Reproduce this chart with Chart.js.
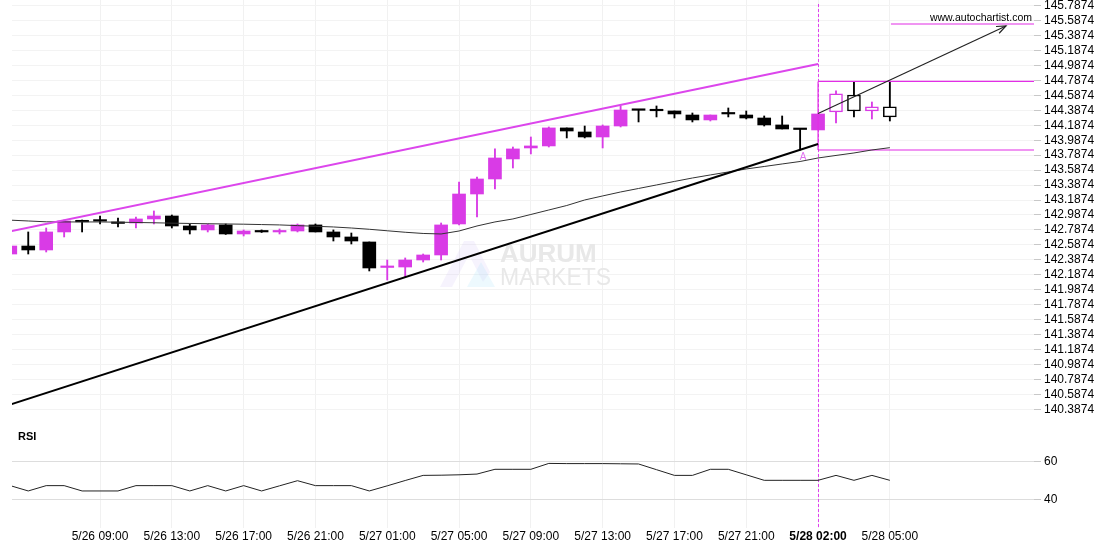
<!DOCTYPE html>
<html>
<head>
<meta charset="utf-8">
<script src="https://cdn.jsdelivr.net/npm/chart.js@4.4.0/dist/chart.umd.min.js"></script>
<style>
  html, body { margin: 0; padding: 0; background: #fff; }
</style>
</head>
<body>
<canvas id="chart" width="1110" height="550"></canvas>
<script>
// hourly candles, index 0 = first candle on the left
const candle_open = [142.465, 142.572, 142.519, 142.760, 142.910, 142.907, 142.894, 142.880, 142.934, 142.974,
    142.840, 142.787, 142.854, 142.733, 142.773, 142.760, 142.773, 142.854, 142.760, 142.693,
    142.626, 142.285, 142.291, 142.385, 142.452, 142.867, 143.268, 143.469, 143.737, 143.884,
    143.911, 144.152, 144.098, 144.031, 144.178, 144.392, 144.386, 144.379, 144.325, 144.259,
    144.346, 144.325, 144.285, 144.192, 144.138, 144.125, 144.366, 144.593, 144.379, 144.433];
const candle_high = [142.586, 142.760, 142.813, 142.920, 142.920, 142.974, 142.947, 142.960, 143.041, 142.987,
    142.867, 142.867, 142.867, 142.787, 142.787, 142.800, 142.867, 142.867, 142.787, 142.746,
    142.626, 142.385, 142.412, 142.465, 142.880, 143.429, 143.496, 143.871, 143.897, 144.031,
    144.165, 144.152, 144.178, 144.192, 144.446, 144.392, 144.446, 144.379, 144.352, 144.325,
    144.419, 144.379, 144.312, 144.312, 144.138, 144.339, 144.647, 144.767, 144.499, 144.767];
const candle_low = [142.452, 142.465, 142.492, 142.693, 142.760, 142.867, 142.827, 142.813, 142.867, 142.813,
    142.733, 142.760, 142.727, 142.706, 142.753, 142.733, 142.760, 142.760, 142.639, 142.599,
    142.238, 142.117, 142.158, 142.358, 142.385, 142.854, 142.960, 143.335, 143.616, 143.804,
    143.897, 144.018, 144.018, 143.884, 144.165, 144.232, 144.299, 144.285, 144.232, 144.245,
    144.299, 144.272, 144.178, 144.138, 143.857, 144.125, 144.218, 144.299, 144.272, 144.245];
const candle_close = [142.572, 142.519, 142.760, 142.907, 142.896, 142.905, 142.874, 142.934, 142.974, 142.840,
    142.787, 142.854, 142.733, 142.773, 142.760, 142.773, 142.854, 142.760, 142.693, 142.639,
    142.278, 142.291, 142.385, 142.452, 142.854, 143.268, 143.469, 143.750, 143.871, 143.911,
    144.152, 144.111, 144.031, 144.178, 144.392, 144.388, 144.382, 144.339, 144.259, 144.325,
    144.339, 144.285, 144.192, 144.138, 144.131, 144.339, 144.607, 144.379, 144.433, 144.299];

const ma_values = [142.918, 142.907, 142.896, 142.894, 142.894, 142.894, 142.891, 142.887, 142.883, 142.878,
    142.874, 142.870, 142.867, 142.864, 142.859, 142.854, 142.845, 142.836, 142.827, 142.813,
    142.796, 142.776, 142.756, 142.740, 142.733, 142.773, 142.840, 142.894, 142.934, 142.994,
    143.054, 143.114, 143.188, 143.242, 143.295, 143.342, 143.389, 143.436, 143.482, 143.523,
    143.563, 143.603, 143.636, 143.670, 143.703, 143.750, 143.784, 143.817, 143.857, 143.888];

const rsi_values = [47.2, 44.4, 47.2, 47.2, 44.4, 44.4, 44.4, 47.2, 47.2, 47.2,
    44.4, 47.2, 44.4, 47.2, 44.4, 47.1, 49.8, 47.2, 47.2, 47.2,
    44.4, 47.1, 49.9, 52.6, 52.7, 52.9, 53.3, 55.8, 55.8, 55.8,
    58.9, 58.8, 58.8, 58.8, 58.7, 58.6, 55.6, 52.6, 52.6, 55.8,
    55.8, 52.9, 50.0, 50.0, 50.0, 50.0, 52.6, 50.0, 52.6, 50.0];

const tick_index = [5, 9, 13, 17, 21, 25, 29, 33, 37, 41, 45, 49];
const tick_text = ['5/26 09:00', '5/26 13:00', '5/26 17:00', '5/26 21:00', '5/27 01:00', '5/27 05:00',
    '5/27 09:00', '5/27 13:00', '5/27 17:00', '5/27 21:00', '5/28 02:00', '5/28 05:00'];
const price_ticks = [140.3874, 140.5874, 140.7874, 140.9874, 141.1874, 141.3874, 141.5874, 141.7874,
    141.9874, 142.1874, 142.3874, 142.5874, 142.7874, 142.9874, 143.1874, 143.3874, 143.5874,
    143.7874, 143.9874, 144.1874, 144.3874, 144.5874, 144.7874, 144.9874, 145.1874, 145.3874,
    145.5874, 145.7874];
const rsi_ticks = [40, 60];

// pattern found by the scanner
const signal_index = 45;
const hollow_from = 46;
const resistance = [[0, 142.768], [45, 145.008]];
const support = [[0, 140.451], [45, 143.937]];
const arrow_line = [[45, 144.346], [55.47, 145.517]];
const box_top = 144.774;
const box_bottom = 143.857;
const target_level = 145.543;
const target_from = 49.06;

const x_min = 0.095;
const x_max = 57.03;

const PINK = '#d93be6';
const LEVEL_PINK = '#e22de6';
const FONT = 'Liberation Sans, Arial, sans-serif';


function pairs(list) {
    return list.map(function (p) { return {x: p[0], y: p[1]}; });
}

function buildDatasets() {
    let wicks = [], bodies = [], colors = [], fills = [], borders = [];
    for (let i = 0; i < candle_open.length; i++) {
        let up = candle_close[i] > candle_open[i];
        let color = up ? PINK : '#000000';
        wicks.push({x: i, y: [candle_low[i], candle_high[i]]});
        bodies.push({x: i, y: [candle_open[i], candle_close[i]]});
        colors.push(color);
        fills.push(i >= hollow_from ? '#ffffff' : color);
        borders.push(i >= hollow_from ? 1.5 : 0);
    }

    let line = function (data, color, width, axis) {
        return {
            type: 'line', data: data, borderColor: color, borderWidth: width,
            pointRadius: 0, tension: 0, fill: false, yAxisID: axis || 'y', order: 1
        };
    };

    return [
        line(pairs(resistance), '#dc46ec', 2),
        line(pairs(support), '#000000', 2),
        line(ma_values.map(function (v, i) { return {x: i, y: v}; }), '#333333', 1),
        line(pairs(arrow_line), '#222222', 1.2),
        line([{x: signal_index, y: box_top}, {x: x_max, y: box_top}], LEVEL_PINK, 1.2),
        line([{x: signal_index, y: box_bottom}, {x: x_max, y: box_bottom}], LEVEL_PINK, 1.2),
        line([{x: signal_index, y: box_bottom}, {x: signal_index, y: box_top}], LEVEL_PINK, 1.2),
        line([{x: target_from, y: target_level}, {x: x_max, y: target_level}], LEVEL_PINK, 1.2),
        line(rsi_values.map(function (v, i) { return {x: i, y: v}; }), '#222222', 1, 'rsi'),
        {
            type: 'bar', data: bodies, backgroundColor: fills, borderColor: colors,
            borderWidth: borders, borderSkipped: false, barThickness: 13, minBarLength: 1.5,
            grouped: false, order: 2
        },
        {
            type: 'bar', data: wicks, backgroundColor: colors, barThickness: 1.2,
            grouped: false, order: 3
        }
    ];
}


// watermark, signal line, arrow head and small texts
const overlay = {
    id: 'overlay',
    beforeDatasetsDraw: function (chart) {
        let ctx = chart.ctx, area = chart.chartArea;
        let left = area.left;

        ctx.save();
        ctx.fillStyle = 'rgba(200, 178, 240, 0.16)';
        ctx.beginPath();
        ctx.moveTo(left + 428, 287); ctx.lineTo(left + 452, 241); ctx.lineTo(left + 462, 241);
        ctx.lineTo(left + 478, 272); ctx.lineTo(left + 471, 282); ctx.lineTo(left + 457, 255);
        ctx.lineTo(left + 440, 287); ctx.closePath(); ctx.fill();
        ctx.fillStyle = 'rgba(175, 228, 250, 0.22)';
        ctx.beginPath();
        ctx.moveTo(left + 455, 287); ctx.lineTo(left + 469, 262); ctx.lineTo(left + 483, 287);
        ctx.closePath(); ctx.fill();

        ctx.fillStyle = '#e8e8e8';
        ctx.textBaseline = 'alphabetic';
        ctx.font = 'bold 26px ' + FONT;
        ctx.fillText('AURUM', left + 488, 262);
        ctx.font = '300 23px ' + FONT;
        ctx.fillText('MARKETS', left + 488, 285);
        ctx.restore();

        let sx = Math.round(chart.scales.x.getPixelForValue(signal_index)) + 0.5;
        ctx.save();
        ctx.strokeStyle = '#e040f0';
        ctx.lineWidth = 1;
        ctx.setLineDash([3, 2]);
        ctx.beginPath();
        ctx.moveTo(sx, area.top + 4);
        ctx.lineTo(sx, area.bottom);
        ctx.stroke();
        ctx.restore();
    },
    afterDatasetsDraw: function (chart) {
        let ctx = chart.ctx, area = chart.chartArea;
        let xs = chart.scales.x, ys = chart.scales.y, rs = chart.scales.rsi;

        let x1 = xs.getPixelForValue(arrow_line[0][0]), y1 = ys.getPixelForValue(arrow_line[0][1]);
        let x2 = xs.getPixelForValue(arrow_line[1][0]), y2 = ys.getPixelForValue(arrow_line[1][1]);
        let angle = Math.atan2(y2 - y1, x2 - x1);
        ctx.save();
        ctx.strokeStyle = '#222222';
        ctx.lineWidth = 1.2;
        ctx.beginPath();
        ctx.moveTo(x2 - 10 * Math.cos(angle - 0.38), y2 - 10 * Math.sin(angle - 0.38));
        ctx.lineTo(x2, y2);
        ctx.lineTo(x2 - 10 * Math.cos(angle + 0.38), y2 - 10 * Math.sin(angle + 0.38));
        ctx.stroke();

        ctx.fillStyle = '#000000';
        ctx.font = '10.5px ' + FONT;
        ctx.textAlign = 'right';
        ctx.textBaseline = 'bottom';
        ctx.fillText('www.autochartist.com', area.right - 2, ys.getPixelForValue(target_level) - 1);

        ctx.fillStyle = '#e070f0';
        ctx.font = '10px ' + FONT;
        ctx.textAlign = 'center';
        ctx.textBaseline = 'middle';
        ctx.fillText('A', xs.getPixelForValue(signal_index - 1) + 3, ys.getPixelForValue(candle_low[signal_index - 1]) + 7);

        ctx.fillStyle = '#000000';
        ctx.font = 'bold 11px ' + FONT;
        ctx.textAlign = 'left';
        ctx.fillText('RSI', area.left + 6, rs.top + 15);
        ctx.restore();
    }
};


function fixWidth(scale) {
    scale.width = 76;
    scale.paddingTop = 0;
    scale.paddingBottom = 0;
}

window.addEventListener('load', function () {
    let ctx = document.getElementById('chart').getContext('2d');
    let chart = new Chart(ctx, {
        type: 'bar',
        data: {datasets: buildDatasets()},
        plugins: [overlay],
        options: {
            responsive: false,
            animation: false,
            layout: {padding: {left: 12, top: 0, right: 0, bottom: 5.6}},
            plugins: {legend: {display: false}, tooltip: {enabled: false}},
            scales: {
                x: {
                    type: 'linear', position: 'bottom', min: x_min, max: x_max, offset: false,
                    afterBuildTicks: function (scale) {
                        scale.ticks = tick_index.map(function (v) { return {value: v}; });
                    },
                    ticks: {
                        autoSkip: false, maxRotation: 0, padding: 1, color: '#000000',
                        callback: function (value) { return tick_text[tick_index.indexOf(value)]; },
                        font: function (c) {
                            let bold = c.tick && c.tick.value === signal_index;
                            return {family: FONT, size: 12, weight: bold ? 'bold' : 'normal'};
                        }
                    },
                    grid: {color: '#f1f1f1', drawTicks: false, offset: false},
                    border: {display: false}
                },
                y: {
                    type: 'linear', position: 'right', stack: 'pane', stackWeight: 422,
                    min: 140.217, max: 145.864,
                    afterBuildTicks: function (scale) {
                        scale.ticks = price_ticks.map(function (v) { return {value: v}; });
                    },
                    afterFit: fixWidth,
                    ticks: {
                        autoSkip: false, padding: 3, color: '#000000', font: {family: FONT, size: 12},
                        callback: function (value) { return value.toFixed(4); }
                    },
                    grid: {color: '#f3f3f3', tickColor: '#c8c8c8', tickLength: 7},
                    border: {display: false}
                },
                rsi: {
                    type: 'linear', position: 'right', stack: 'pane', stackWeight: 106,
                    min: 24.9, max: 80.7,
                    afterBuildTicks: function (scale) {
                        scale.ticks = rsi_ticks.map(function (v) { return {value: v}; });
                    },
                    afterFit: fixWidth,
                    ticks: {autoSkip: false, padding: 3, color: '#000000', font: {family: FONT, size: 12}},
                    grid: {color: '#dddddd', tickColor: '#c8c8c8', tickLength: 7},
                    border: {display: false}
                }
            }
        }
    });
});
</script>
</body>
</html>
